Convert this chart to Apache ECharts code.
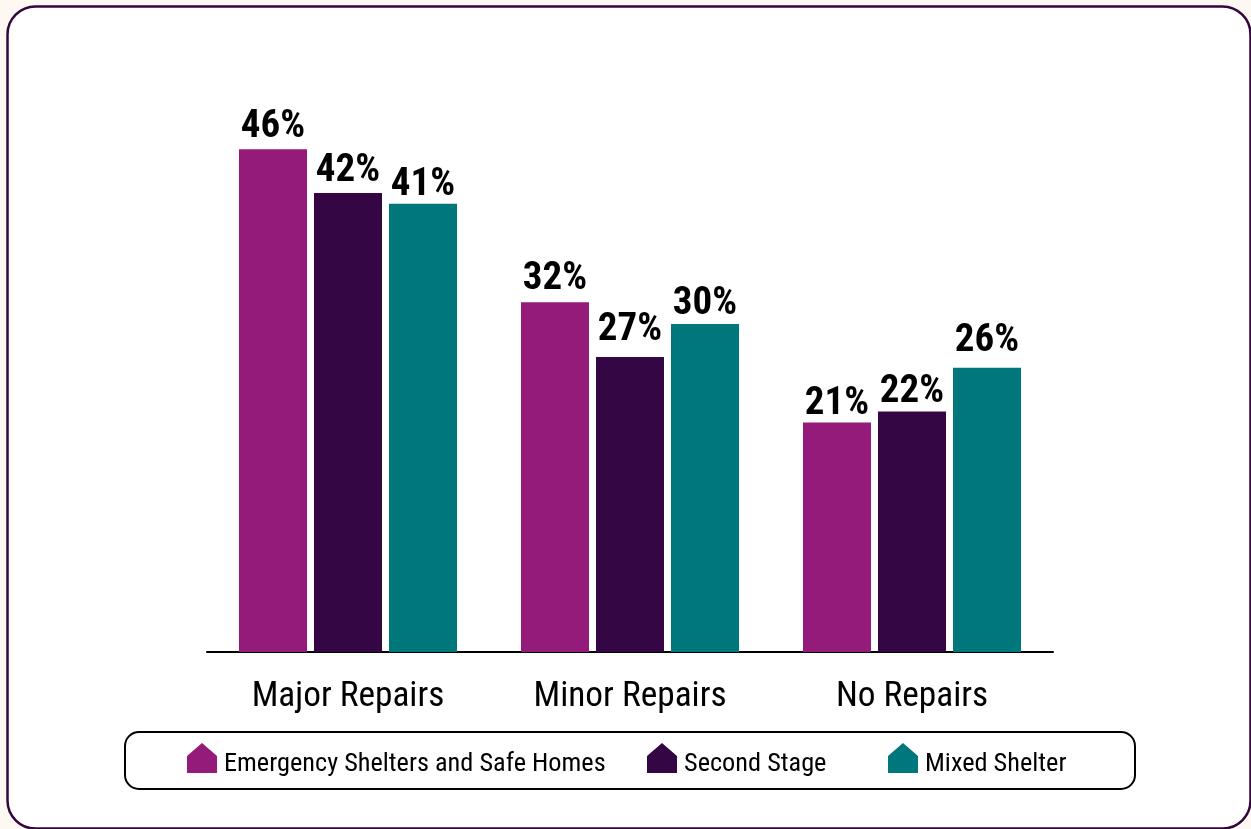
<!DOCTYPE html>
<html><head><meta charset="utf-8">
<style>html,body{margin:0;padding:0;background:#fdf8f2}#c{width:1251px;height:829px}</style>
<script src="https://cdn.jsdelivr.net/npm/echarts@6/dist/echarts.min.js"></script></head>
<body><div id="c"></div>
<script>
const categories = ['Major Repairs','Minor Repairs','No Repairs'];
const emergency = [46,32,21];
const secondStage = [42,27,22];
const mixed = [41,30,26];
const seriesNames = ['Emergency Shelters and Safe Homes','Second Stage','Mixed Shelter'];
const FONT = '"Roboto Condensed","Liberation Sans",sans-serif';
const house = 'path://M0 30 L0 13 L15 0 L30 13 L30 30 Z M15 42 L15 42 Z';
// the reference's value labels sit at slightly different heights above their bars
const labelRaise = [[2,3,-1],[2,7,0],[-1,0,7]];
const chart = echarts.init(document.getElementById('c'),null,{renderer:'canvas'});
function s(i,data,color){return {name:seriesNames[i],type:'bar',
  data:data.map((value,j)=>({value,label:{offset:[0,-labelRaise[i][j]]}})),
  barWidth:68,barGap:'10.3%',itemStyle:{color},
  label:{show:true,position:'top',distance:0,formatter:'{c}%',fontFamily:FONT,fontWeight:'bold',fontSize:39,color:'#000'}};}
function lg(name,left){return {left,top:743,itemWidth:30,itemHeight:42,padding:0,
    textStyle:{fontFamily:FONT,fontSize:26.3,color:'#000',padding:[0,0,0,2]},
    data:[{name,icon:house}]};}
chart.setOption({
  animation:false,backgroundColor:'#fdf8f2',
  graphic:[
    {type:'rect',z:-10,shape:{x:7.5,y:6.5,width:1243,height:822,r:28},style:{fill:'#fff',stroke:'#35063e',lineWidth:2.5}},
    {type:'rect',z:-9,shape:{x:125,y:732,width:1010,height:57,r:14},style:{fill:'#fff',stroke:'#000',lineWidth:2}}
  ],
  grid:{left:207,width:846,top:105.5,height:546.5},
  xAxis:{type:'category',data:categories,axisTick:{show:false},axisLine:{lineStyle:{color:'#000',width:2}},
    axisLabel:{fontFamily:FONT,fontSize:35.3,color:'#000',margin:28}},
  yAxis:{type:'value',min:0,max:50,show:false,splitLine:{show:false}},
  legend:[lg(seriesNames[0],187),lg(seriesNames[1],647),lg(seriesNames[2],888)],
  series:[s(0,emergency,'#951b7a'),s(1,secondStage,'#350644'),s(2,mixed,'#00777b')]
});
</script></body></html>
